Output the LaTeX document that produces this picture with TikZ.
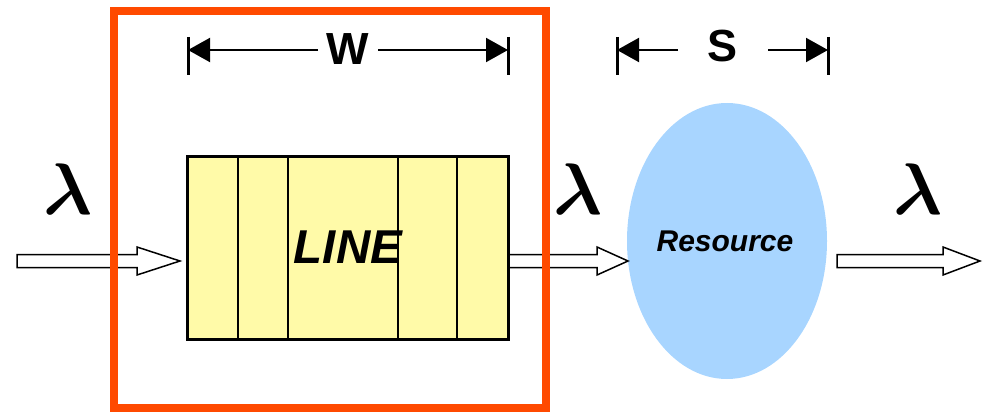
\documentclass[tikz,border=0pt]{standalone}
\usepackage{fontspec}
\setmainfont{Liberation Sans}
\usetikzlibrary{arrows.meta,shapes.geometric,calc}
\definecolor{frameor}{HTML}{FF4A00}
\definecolor{lineyel}{HTML}{FFFAA8}
\definecolor{resblue}{HTML}{A8D5FF}
\tikzset{
  blockarr/.style={draw=black,line width=1.5pt,fill=white,line join=miter},
  dimline/.style={line width=2pt,-{Triangle[length=22pt,width=24pt]}},
  tick/.style={line width=3pt},
  lam/.style={font=\boldmath,inner sep=0pt,scale=7.3},
  dimlabel/.style={font=\fontsize{45}{45}\selectfont\bfseries,inner sep=0pt},
}
\begin{document}
\begin{tikzpicture}[x=1pt,y=-1pt]
\useasboundingbox (0,0) rectangle (986,412);
% line box
\node[draw=black,line width=3pt,fill=lineyel,minimum width=321pt,minimum height=183pt,inner sep=0pt] (line) at (347.5,247.5) {};
\foreach \xx in {238,288,398,457}{\draw[line width=2pt] (\xx,156) -- (\xx,339);}
\node[font=\fontsize{47.5}{48}\selectfont\bfseries\itshape,inner sep=0pt] (linetxt) at (348,247) {LINE};
% resource
\node[ellipse,fill=resblue,minimum width=200pt,minimum height=276pt,inner sep=0pt] (res) at (727,241) {};
\node[font=\fontsize{30}{30}\selectfont\bfseries\itshape,inner sep=0pt] (restxt) at (725,241) {Resource};
% block arrows
\draw[blockarr] (17,254.5) -- (137,254.5) -- (137,247) -- (180,261) -- (137,275) -- (137,267.5) -- (17,267.5) -- cycle;
\draw[blockarr] (510,254.5) -- (597,254.5) -- (597,247) -- (628,261) -- (597,275) -- (597,267.5) -- (510,267.5);
\draw[blockarr] (837,254.5) -- (943,254.5) -- (943,247) -- (980,261) -- (943,275) -- (943,267.5) -- (837,267.5) -- cycle;
% lambdas
\node[lam] (l1) at (68,189) {$\lambda$};
\node[lam] (l2) at (578,189) {$\lambda$};
\node[lam] (l3) at (918,189) {$\lambda$};
% W dimension
\coordinate (wl) at (188,50);
\coordinate (wr) at (508,50);
\node[dimlabel] (W) at (348,49) {W};
\draw[tick] (188,37) -- (188,75);
\draw[tick] (508,37) -- (508,75);
\draw[dimline] (318,50) -- (wl);
\draw[dimline] (378,50) -- (wr);
% S dimension
\coordinate (sl) at (617,50);
\coordinate (sr) at (828,50);
\node[dimlabel] (S) at (723,46) {S};
\draw[tick] (617,37) -- (617,75);
\draw[tick] (828,37) -- (828,75);
\draw[dimline] (678,50) -- (sl);
\draw[dimline] (768,50) -- (sr);
% orange frame
\draw[frameor,line width=8pt] (114,11) rectangle (546,408);
\end{tikzpicture}
\end{document}
